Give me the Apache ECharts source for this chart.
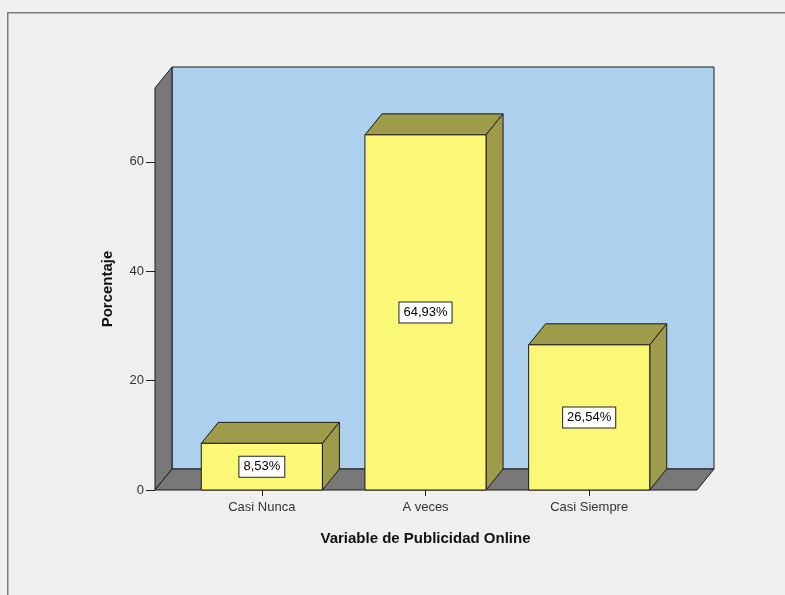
<!DOCTYPE html>
<html>
<head>
<meta charset="utf-8">
<script src="https://cdn.jsdelivr.net/npm/echarts@6/dist/echarts.min.js"></script>
<style>
  html, body { margin: 0; padding: 0; background: #efefef; }
  #chart { width: 785px; height: 595px; }
</style>
</head>
<body>
<div id="chart"></div>
<script>
// Frequency chart data
var categories = ['Casi Nunca', 'A veces', 'Casi Siempre'];
var percentages = [8.53, 64.93, 26.54];
var yTicks = [0, 20, 40, 60];

var Y_MAX = 73.5;
var DEPTH_X = 17, DEPTH_Y = -21;
var FRONT = '#fbf878', SHADE = '#9e9b4a';
var WALL_BACK = '#acd0ee', WALL_GRAY = '#787878';

function fmt(v) { return v.toFixed(2).replace('.', ',') + '%'; }

var chart = echarts.init(document.getElementById('chart'));

chart.setOption({
  backgroundColor: '#efefef',
  animation: false,
  graphic: [{
    type: 'rect', left: 7, top: 12, z: -10,
    shape: { width: 800, height: 600 },
    style: { fill: '#efefef', stroke: '#7a7a7a', lineWidth: 1.5 }
  }],
  grid: [
    { left: 155, right: 88, top: 88, bottom: 105 },
    { left: 180, right: 114, top: 88, bottom: 105 }
  ],
  xAxis: [
    { gridIndex: 0, type: 'value', min: 0, max: 1, show: false },
    {
      gridIndex: 1, type: 'category', data: categories,
      name: 'Variable de Publicidad Online', nameLocation: 'middle', nameGap: 41,
      nameTextStyle: { fontFamily: 'Liberation Sans', fontSize: 15, fontWeight: 'bold', color: '#111' },
      axisLine: { show: false },
      axisTick: { show: true, alignWithLabel: true, length: 6, lineStyle: { color: '#222' } },
      axisLabel: { fontFamily: 'Liberation Sans', fontSize: 13, color: '#333', margin: 11 },
      splitLine: { show: false }
    }
  ],
  yAxis: [
    {
      gridIndex: 0, type: 'value', min: 0, max: Y_MAX, interval: 20,
      name: 'Porcentaje', nameLocation: 'middle', nameGap: 40, nameRotate: 90,
      nameTextStyle: { fontFamily: 'Liberation Sans', fontSize: 15, fontWeight: 'bold', color: '#111' },
      axisLine: { show: false },
      axisTick: { show: true, length: 9, customValues: yTicks, lineStyle: { color: '#222' } },
      axisLabel: {
        fontFamily: 'Liberation Sans', fontSize: 13, color: '#333', margin: 11,
        customValues: yTicks
      },
      splitLine: { show: false }
    },
    { gridIndex: 1, type: 'value', min: 0, max: Y_MAX, interval: 20, show: false }
  ],
  series: [
    {
      // Back wall, side wall and floor of the 3D box
      type: 'custom', xAxisIndex: 0, yAxisIndex: 0, z: 1,
      data: [[0]],
      renderItem: function (params, api) {
        var a = api.coord([0, 0]);
        var b = api.coord([1, Y_MAX]);
        var x0 = a[0], y0 = a[1], x1 = b[0], yT = b[1];
        var line = { stroke: '#1a1a1a', lineWidth: 1 };
        return {
          type: 'group',
          children: [
            { type: 'rect', shape: { x: x0 + DEPTH_X, y: yT + DEPTH_Y, width: x1 - x0, height: y0 - yT },
              style: Object.assign({ fill: WALL_BACK }, line) },
            { type: 'polygon', shape: { points: [[x0, y0], [x0, yT], [x0 + DEPTH_X, yT + DEPTH_Y], [x0 + DEPTH_X, y0 + DEPTH_Y]] },
              style: Object.assign({ fill: WALL_GRAY }, line) },
            { type: 'polygon', shape: { points: [[x0, y0], [x1, y0], [x1 + DEPTH_X, y0 + DEPTH_Y], [x0 + DEPTH_X, y0 + DEPTH_Y]] },
              style: Object.assign({ fill: WALL_GRAY }, line) }
          ]
        };
      }
    },
    {
      // 3D bars with value boxes
      type: 'custom', xAxisIndex: 1, yAxisIndex: 1, z: 2,
      data: percentages.map(function (v, i) { return [i, v]; }),
      renderItem: function (params, api) {
        var i = api.value(0), v = api.value(1);
        var top = api.coord([i, v]);
        var base = api.coord([i, 0]);
        var w = api.size([1, 0])[0] * 0.74;
        var xl = top[0] - w / 2, xr = top[0] + w / 2, yt = top[1], yb = base[1];
        var line = { stroke: '#1a1a1a', lineWidth: 1 };
        var cy = (yt + yb) / 2;
        return {
          type: 'group',
          children: [
            { type: 'polygon', shape: { points: [[xl, yt], [xr, yt], [xr + DEPTH_X, yt + DEPTH_Y], [xl + DEPTH_X, yt + DEPTH_Y]] },
              style: Object.assign({ fill: SHADE }, line) },
            { type: 'polygon', shape: { points: [[xr, yt], [xr + DEPTH_X, yt + DEPTH_Y], [xr + DEPTH_X, yb + DEPTH_Y], [xr, yb]] },
              style: Object.assign({ fill: SHADE }, line) },
            { type: 'rect', shape: { x: xl, y: yt, width: w, height: yb - yt },
              style: Object.assign({ fill: FRONT }, line) },
            { type: 'text', x: top[0], y: cy,
              style: {
                text: fmt(v), fontFamily: 'Liberation Sans', fontSize: 13, fill: '#000',
                align: 'center', verticalAlign: 'middle',
                backgroundColor: '#fff', borderColor: '#222', borderWidth: 1,
                padding: [4, 4, 3, 4]
              } }
          ]
        };
      }
    }
  ]
});
</script>
</body>
</html>
